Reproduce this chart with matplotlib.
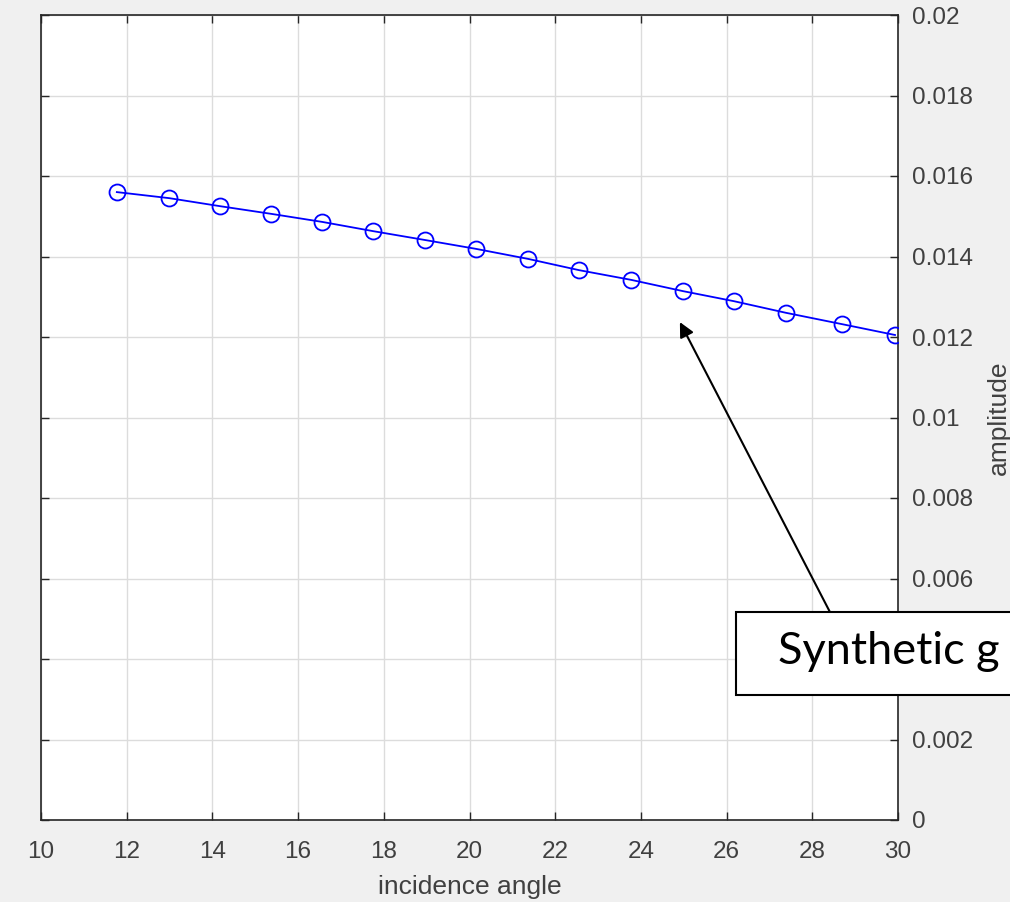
import matplotlib
matplotlib.use("Agg")
import matplotlib.pyplot as plt
from matplotlib.patches import Rectangle

# incidence angle vs amplitude
angles = [11.77, 12.99, 14.18, 15.37, 16.56, 17.75, 18.96, 20.15,
          21.37, 22.56, 23.77, 24.98, 26.17, 27.39, 28.69, 29.93]
amps = [0.01560, 0.01545, 0.01525, 0.01506, 0.01486, 0.01463, 0.01441, 0.01419,
        0.01394, 0.01366, 0.01342, 0.01314, 0.01289, 0.01260, 0.01232, 0.01205]
xticks = list(range(10, 31, 2))
yticks = [0, 0.002, 0.004, 0.006, 0.008, 0.01, 0.012, 0.014, 0.016, 0.018, 0.02]
ytick_labels = ["0", "0.002", "0.004", "0.006", "0.008", "0.01",
                "0.012", "0.014", "0.016", "0.018", "0.02"]

plt.rcParams['font.family'] = ['Liberation Sans', 'DejaVu Sans']

fig = plt.figure(figsize=(10.1, 9.02), dpi=100, facecolor="#f0f0f0")
ax = fig.add_axes([41/1010, 82/902, (898-41)/1010, (820-15)/902])
ax.set_facecolor("white")

ax.plot(angles, amps, color="#0000ff", lw=1.3, marker="o", ms=11.5,
        mfc="none", mec="#0000ff", mew=1.3, zorder=3)

ax.set_xlim(10, 30)
ax.set_ylim(0, 0.02)
ax.set_xticks(xticks)
ax.set_yticks(yticks)
ax.set_yticklabels(ytick_labels)
ax.grid(True, color="#dcdcdc", lw=1)
ax.set_axisbelow(True)

ax.yaxis.tick_right()
ax.yaxis.set_label_position("right")
ax.tick_params(axis="both", direction="in", length=6, width=1, color="#262626",
               labelsize=17.5, labelcolor="#404040", top=True, left=True, right=True)
ax.tick_params(axis="x", pad=15)
ax.tick_params(axis="y", pad=10)
for s in ax.spines.values():
    s.set_color("#262626")
    s.set_linewidth(1.2)

ax.set_xlabel("incidence angle", fontsize=19, color="#404040", labelpad=9)
ax.set_ylabel("amplitude", fontsize=19, color="#404040", labelpad=10)

# callout arrow, box and text (box runs off the right edge, as in the original)
ax.annotate("", xy=(24.91, 0.01237), xytext=(28.41, 0.00517),
            arrowprops=dict(arrowstyle="-|>", color="black", lw=1.5,
                            mutation_scale=22, shrinkA=0, shrinkB=0),
            annotation_clip=False, zorder=5)
ax.add_patch(Rectangle((26.22, 0.00311), 9.0, 0.00206, fc="white", ec="black",
                       lw=1.5, clip_on=False, zorder=6))
ax.text(27.20, 0.00418, "Synthetic g", fontsize=32.5, family=["Lato", "DejaVu Sans"],
        ha="left", va="center", color="black", zorder=7, clip_on=False)

fig.savefig("out.png", dpi=100, facecolor=fig.get_facecolor())
